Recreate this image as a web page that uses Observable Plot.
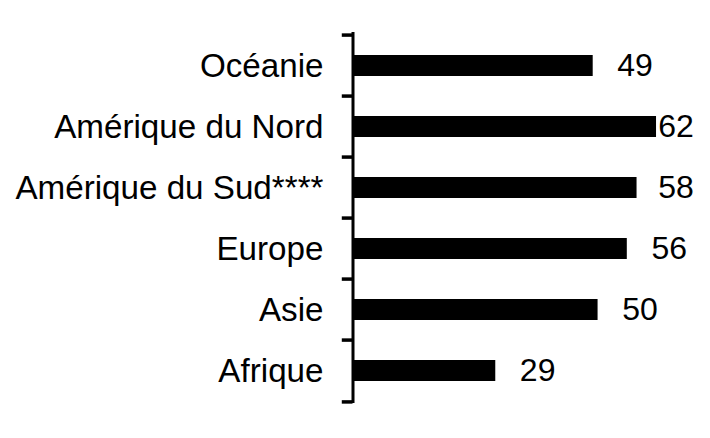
<!DOCTYPE html>
<html>
<head>
<meta charset="utf-8">
<script src="https://cdn.jsdelivr.net/npm/d3@7"></script>
<script src="https://cdn.jsdelivr.net/npm/@observablehq/plot@0.6"></script>
<style>
  html, body { margin: 0; padding: 0; background: #fff; }
  #chart svg { font-family: "Liberation Sans", Arial, sans-serif; }
</style>
</head>
<body>
<div id="chart"></div>
<script>
const categories = ["Océanie", "Amérique du Nord", "Amérique du Sud****", "Europe", "Asie", "Afrique"];
const values = [49, 62, 58, 56, 50, 29];

const data = categories.map((c, i) => ({category: c, value: values[i]}));

const step = (403 - 32) / categories.length;

const chart = Plot.plot({
  width: 710,
  height: 438,
  marginLeft: 354,
  marginRight: 15,
  marginTop: 32,
  marginBottom: 35,
  style: {fontFamily: "'Liberation Sans', Arial, sans-serif", background: "#fff"},
  x: {domain: [0, 70], axis: null},
  y: {domain: categories, paddingInner: 0.66, paddingOuter: 0.33, label: null},
  marks: [
    Plot.axisY({tickSize: 0, tickPadding: 31, fontSize: 33.2, fill: "#000", label: null}),
    Plot.barX(data, {y: "category", x: "value", fill: "#000"}),
    Plot.ruleX([0], {stroke: "#000", strokeWidth: 3, dx: -1.5}),
    Plot.ruleY(categories, {y: d => d, x1: -2.2, x2: 0, dx: -1.5, dy: -step / 2, stroke: "#000", strokeWidth: 3.5}),
    Plot.ruleY([categories[categories.length - 1]], {y: d => d, x1: -2.2, x2: 0, dx: -1.5, dy: step / 2, stroke: "#000", strokeWidth: 3.5}),
    Plot.text(data, {
      y: "category",
      x: d => Math.min(d.value + 8.6, 66),
      text: d => String(d.value),
      fontSize: 32,
      fill: "#000",
      textAnchor: "middle"
    })
  ]
});

document.getElementById("chart").appendChild(chart);
</script>
</body>
</html>
